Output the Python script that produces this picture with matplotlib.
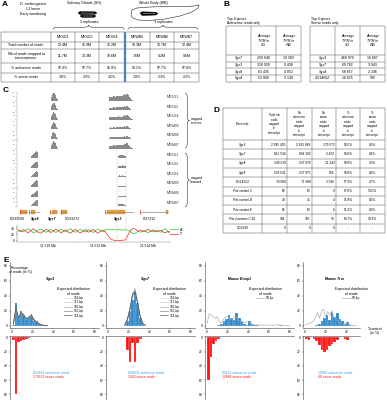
import numpy as np
import matplotlib
matplotlib.use("Agg")
import matplotlib.pyplot as plt
from matplotlib.patches import Polygon, Rectangle, PathPatch
from matplotlib.path import Path

# ------------------------------------------------------------------ DATA
samples = ["MESG1", "MESG2", "MESG4", "MEWB5", "MEWB6", "MEWB7"]
a_rowlabels = ["Total number of reads", "Nb of reads mapped to\ntranscriptome",
               "% antisense reads", "% sense reads"]
total_reads = ["13.4M", "15.9M", "12.2M", "10.3M", "12.7M", "12.4M"]
mapped_reads = ["11.7M", "13.3M", "10.6M", "7.6M", "9.2M", "9.5M"]
pct_antisense = ["97.4%", "97.7%", "96.9%", "98.1%", "97.7%", "97.8%"]
pct_sense = ["2.6%", "2.3%", "3.1%", "1.9%", "2.3%", "2.2%"]

b_headers = ["Average\nTPM in\nSG", "Average\nTPM in\nWB"]
b_anti_genes = ["Sgs7", "Sgs3", "Sgs8", "Sgs4"]
b_anti_sg = ["259 040", "158 939", "63 435", "53 900"]
b_anti_wb = ["19 303", "9 438", "4 852", "3 149"]
b_sense_genes = ["Sgs3", "Sgs7", "Sgs4", "CG14052"]
b_sense_sg = ["468 970", "69 782", "56 657", "16 625"]
b_sense_wb = ["16 687", "3 943", "2 246", "526"]

d_headers = ["Transcript", "Total nb\nreads\nmapped\nto\ntranscript",
             "Nb\nantisense\nreads\nmapped\nto\ntranscript",
             "Nb\nsense\nreads\nmapped\nto\ntranscript",
             "%\nantisense\nreads\nmapped\nto\ntranscript",
             "%\nsense\nreads\nmapped\nto\ntranscript"]
d_transcripts = ["Sgs3", "Sgs7", "Sgs4", "Sgs8", "CG14052", "Pits variant C",
                 "Pits variant D", "Pits variant E", "Pits (variants C-E)", "CG2839"]
d_total = ["2 995 455", "811 534", "549 219", "238 531", "74 004", "69", "49", "66", "184", "0"]
d_anti = ["2 815 883", "808 102", "537 976", "237 975", "71 988", "60", "45", "60", "165", "0"]
d_sense = ["179 572", "3 432", "11 243", "556", "2 016", "9", "4", "6", "19", "0"]
d_pct_anti = ["94.0%", "99.6%", "98.0%", "99.8%", "97.3%", "87.0%", "91.8%", "91.0%", "89.7%", "-"]
d_pct_sense = ["6.0%", "0.4%", "2.0%", "0.2%", "2.7%", "13.0%", "8.2%", "9.0%", "10.3%", "-"]

# Panel C: coverage profiles (genomic position in kb)
rev_sgs7_pos = [11510.08, 11510.12, 11510.15, 11510.19, 11510.23, 11510.27, 11510.30,
                11510.34, 11510.38, 11510.41]
rev_sgs7_val = [0.0, 0.5, 0.8, 1.0, 0.92, 0.75, 0.55, 0.35, 0.15, 0.0]
rev_sgs7_scale = [1.0, 0.95, 0.97, 0.9, 0.88, 0.92]
rev_sgs3_pos = [11512.40, 11512.45, 11512.50, 11512.55, 11512.60, 11512.65, 11512.70,
                11512.75, 11512.80, 11512.85, 11512.90, 11512.95, 11513.00, 11513.05,
                11513.10, 11513.15, 11513.20, 11513.25, 11513.30, 11513.35, 11513.40]
rev_sgs3_val = [0.0, 0.45, 0.55, 0.5, 0.6, 0.58, 0.52, 0.62, 0.66, 0.6, 0.56,
                0.62, 0.72, 0.88, 0.76, 0.92, 0.72, 0.5, 0.3, 0.12, 0.0]
rev_sgs3_scale = [0.95, 0.62, 0.68, 0.45, 0.42, 0.72]
fwd_sgs8_pos = [11509.28, 11509.32, 11509.36, 11509.39, 11509.43, 11509.47, 11509.51,
                11509.54, 11509.58, 11509.62]
fwd_sgs8_val = [0.0, 0.25, 0.4, 0.55, 0.7, 0.85, 1.0, 0.3, 0.95, 0.0]
fwd_sgs8_scale = [0.9, 0.8, 0.78, 0.85, 0.72, 0.78]
fwd_sgs3_pos = [11512.76, 11512.81, 11512.86, 11512.91, 11512.97, 11513.02, 11513.07, 11513.12]
fwd_sgs3_val = [0.0, 0.55, 0.7, 0.62, 0.75, 0.68, 0.45, 0.0]
fwd_sgs3_scale = [0.6, 0.4, 0.35, 0.25, 0.15, 0.45]
highlight_kb = [11512.75, 11513.11]

gene_names = ["CG33500", "Sgs8", "Sgs7", "CG33272", "Sgs3", "CG7312"]
gene_start = [11508.87, 11509.23, 11510.07, 11510.51, 11512.27, 11513.67]
gene_end = [11509.15, 11509.63, 11510.35, 11510.75, 11513.39, 11514.79]
exon_start = [11508.87, 11509.31, 11510.15, 11510.51, 11512.35, 11514.72]
exon_end = [11509.15, 11509.47, 11510.35, 11510.75, 11513.07, 11514.79]
gene_label_kb = [11508.75, 11509.47, 11510.15, 11510.95, 11512.79, 11514.03]

at_pos = np.round(np.linspace(11508.8, 11514.9, 62), 2)
a_content = [30, 33, 28, 35, 38, 32, 25, 28, 34, 37,
             33, 27, 30, 36, 32, 26, 31, 37, 33, 28,
             34, 38, 30, 27, 33, 36, 31, 28, 35, 32,
             26, 33, 37, 31, 29, 35, 36, 35, 35, 34,
             35, 35, 34, 35, 33, 28, 22, 25, 30, 27,
             32, 29, 25, 31, 28, 33, 30, 27, 35, 38, 27, 25]
t_content = [35, 28, 36, 30, 25, 32, 38, 33, 26, 24,
             30, 36, 33, 26, 30, 37, 32, 25, 29, 35,
             27, 24, 33, 36, 28, 25, 31, 35, 27, 30,
             36, 29, 24, 31, 34, 27, 15, 5, 2, 1,
             0, 1, 2, 3, 20, 33, 40, 36, 30, 34,
             28, 33, 36, 30, 34, 28, 31, 33, 27, 26, 30, 29]

# Panel E: T-content histograms (bin starts, width 2.5 %)
e_titles = [r"$\mathbfit{Sgs3}$", r"$\mathbfit{Sgs7}$",
            r"$\mathbf{Mouse}$ $\mathbfit{Bsnp1}$", r"$\mathbf{Mouse}$ $\mathbfit{Trio}$"]
e_antisense_txt = ["815883 antisense reads", "808102 antisense reads",
                   "84131 antisense reads", "10969 antisense reads"]
e_sense_txt = ["179572 sense reads", "3430 sense reads", "12884 sense reads", "48 sense reads"]

sgs3_anti_bins = [0, 2.5, 5, 7.5, 10, 12.5, 15, 17.5, 20, 22.5, 25, 27.5, 30, 32.5, 35, 37.5, 40, 42.5]
sgs3_anti_vals = [0.5, 31, 12, 20, 15, 9, 10, 12, 7, 6, 4, 1, 0.5, 0.5, 0.3, 0.3, 0.2, 0.2]
sgs3_sense_bins = [0, 2.5, 5, 7.5, 10, 12.5, 15]
sgs3_sense_vals = [3, 79, 7, 5, 3, 2, 1]
sgs7_anti_bins = [15, 17.5, 20, 22.5, 25, 27.5, 30, 32.5]
sgs7_anti_vals = [1, 7, 20, 35, 45, 30, 10, 3]
sgs7_sense_bins = [17.5, 20, 22.5, 25, 27.5, 30]
sgs7_sense_vals = [18, 34, 8, 35, 8, 2]
bsnp1_anti_bins = [10, 12.5, 15, 17.5, 20, 22.5, 25, 27.5, 30, 32.5, 35, 37.5, 40, 42.5, 45, 47.5, 70]
bsnp1_anti_vals = [1, 3, 6, 9, 14, 11, 8, 17, 11, 6, 3, 1, 6, 2, 1, 0.5, 1]
bsnp1_sense_bins = [0, 2.5, 5, 7.5, 10]
bsnp1_sense_vals = [60, 27, 9, 5, 2]
trio_anti_bins = [10, 12.5, 15, 17.5, 20, 22.5, 25, 27.5, 30, 32.5, 35, 37.5, 40, 42.5]
trio_anti_vals = [1, 3, 7, 10, 14, 8, 18, 12, 17, 9, 7, 3, 5, 1]
trio_sense_bins = [0, 2.5, 7.5, 10, 12.5, 15, 17.5, 20, 22.5, 25, 27.5, 30, 37.5, 40]
trio_sense_vals = [2, 3, 2, 5, 10, 18, 20, 17, 12, 9, 6, 3, 2, 3]

exp_labels_sgs = ["118-bp", "117-bp", "116-bp", "115-bp", "114-bp"]
sgs3_exp_x = [1.25, 3.75, 6.25, 8.75, 11.25, 13.75, 16.25, 18.75, 21.25, 23.75, 26.25, 28.75, 31.25, 33.75]
sgs3_exp = [[2, 22, 10, 18, 14, 9, 11, 14, 8, 5, 3, 1, 0.5, 0],
            [3, 24, 9, 17, 15, 8, 12, 13, 9, 5, 2, 1, 0.5, 0],
            [2, 23, 11, 16, 14, 10, 11, 14, 7, 6, 3, 1, 0.5, 0],
            [3, 21, 10, 19, 13, 9, 12, 13, 8, 5, 3, 1, 0.5, 0],
            [2, 25, 10, 17, 15, 9, 10, 15, 8, 5, 2, 1, 0.5, 0]]
sgs7_exp_x = [16.25, 18.75, 21.25, 23.75, 26.25, 28.75, 31.25, 33.75, 36.25]
sgs7_exp = [[1, 8, 22, 40, 48, 30, 12, 3, 0.5],
            [1, 9, 24, 42, 46, 28, 11, 3, 0.5],
            [1, 7, 21, 41, 50, 31, 12, 2, 0.5],
            [2, 8, 23, 39, 47, 29, 13, 3, 0.5],
            [1, 9, 22, 43, 45, 30, 11, 3, 0.5]]
bsnp1_exp_x = [0, 2, 4, 6, 8, 10, 12, 14, 16, 18, 20, 22, 24, 26, 28, 30, 32, 34, 36, 38,
               40, 44, 48, 52, 56, 60, 64, 68, 72, 76, 80]
bsnp1_exp = [3, 16, 14, 12, 10, 12, 5, 4, 9, 12, 13, 10, 8, 11, 12, 8, 6, 5, 4, 5,
             5, 2, 1, 1, 0.5, 1, 0.5, 1.5, 0.5, 0.2, 0]
trio_exp_x = [0, 2, 4, 6, 8, 10, 12, 14, 16, 18, 20, 22, 24, 26, 28, 30, 32, 34, 36, 38,
              40, 42, 44, 46, 48, 50]
trio_exp = [1, 2, 3, 4, 6, 10, 18, 10, 20, 22, 12, 19, 14, 20, 10, 9, 5, 4, 3, 2,
            3, 2, 1, 0.5, 0.2, 0]

# ------------------------------------------------------------------ STYLE
plt.rcParams['font.family'] = ['Liberation Sans', 'DejaVu Sans']
plt.rcParams['mathtext.fontset'] = 'custom'
plt.rcParams['mathtext.rm'] = 'Liberation Sans'
plt.rcParams['mathtext.it'] = 'Liberation Sans:italic'
plt.rcParams['mathtext.bf'] = 'Liberation Sans:bold'
plt.rcParams['mathtext.bfit'] = 'Liberation Sans:italic:bold'

W, H = 387, 400
fig = plt.figure(figsize=(3.87, 4.0), dpi=100)
fig.patch.set_facecolor('white')


def frac(x0, y0, x1, y1):
    return [x0 / W, 1 - y1 / H, (x1 - x0) / W, (y1 - y0) / H]


ov = fig.add_axes([0, 0, 1, 1])
ov.set_xlim(0, W)
ov.set_ylim(H, 0)
ov.axis('off')
ov.patch.set_visible(False)

LC = '#555555'


def grid(xs, ys, lw=0.35, color=LC):
    for x in xs:
        ov.plot([x, x], [ys[0], ys[-1]], color=color, lw=lw, solid_capstyle='butt')
    for y in ys:
        ov.plot([xs[0], xs[-1]], [y, y], color=color, lw=lw, solid_capstyle='butt')


def ctext(x0, x1, y0, y1, s, **kw):
    ov.text((x0 + x1) / 2, (y0 + y1) / 2, s, ha='center', va='center', **kw)


def hbrace(x0, x1, y, h, lw=0.4):
    xm = (x0 + x1) / 2
    r = h
    yl = y - h / 2
    verts = [(x0, y), (x0, yl), (x0 + r, yl), (xm - r, yl), (xm, yl), (xm, y - h),
             (xm, yl), (xm + r, yl), (x1 - r, yl), (x1, yl), (x1, y)]
    codes = [Path.MOVETO, Path.CURVE3, Path.CURVE3, Path.LINETO, Path.CURVE3, Path.CURVE3,
             Path.CURVE3, Path.CURVE3, Path.LINETO, Path.CURVE3, Path.CURVE3]
    ov.add_patch(PathPatch(Path(verts, codes), fill=False, lw=lw, ec='#333333'))


def vbrace(y0, y1, x, w, lw=0.4):
    ym = (y0 + y1) / 2
    r = w
    xl = x + w / 2
    verts = [(x, y0), (xl, y0), (xl, y0 + r), (xl, ym - r), (xl, ym), (x + w, ym),
             (xl, ym), (xl, ym + r), (xl, y1 - r), (xl, y1), (x, y1)]
    codes = [Path.MOVETO, Path.CURVE3, Path.CURVE3, Path.LINETO, Path.CURVE3, Path.CURVE3,
             Path.CURVE3, Path.CURVE3, Path.LINETO, Path.CURVE3, Path.CURVE3]
    ov.add_patch(PathPatch(Path(verts, codes), fill=False, lw=lw, ec='#333333'))


# ------------------------------------------------------------------ PANEL A
ov.text(2, 5, "A", fontsize=6, fontweight='bold', va='center')
ov.text(33, 4.5, "D. melanogaster", fontsize=2.6, style='italic', ha='center', va='center')
ov.text(33, 9.5, "L3 larver", fontsize=2.6, ha='center', va='center')
ov.text(33, 14.5, "Early wandering", fontsize=2.6, ha='center', va='center')
ov.text(84, 3, "Salivary Glands (SG)", fontsize=2.6, ha='center', va='center')
ov.text(153, 3, "Whole Body (WB)", fontsize=2.6, ha='center', va='center')
ov.add_patch(Polygon([(78, 13), (80, 11.5), (95, 11.8), (97, 13), (95, 14.2), (80, 14.4)],
                     closed=True, fc='black', ec='black', lw=0.3))
ov.add_patch(Polygon([(80, 16), (82, 14.8), (94, 15), (96, 16), (94, 17.4), (82, 17.4)],
                     closed=True, fc='black', ec='black', lw=0.3))
ov.plot([81, 94], [13, 13.1], color='white', lw=0.3)
ov.plot([83, 93], [16.1, 16.1], color='white', lw=0.3)
ov.add_patch(Polygon([(131, 14), (132, 10), (137, 8), (150, 7), (168, 6.5), (185, 6.5), (194, 6),
                      (199, 5), (198, 8), (192, 12), (180, 16), (165, 19), (150, 20.5), (138, 20),
                      (132, 17.5)], closed=True, fc='white', ec='#222222', lw=0.4))
ov.add_patch(Polygon([(140, 13), (142, 11.8), (156, 12.2), (158, 13.5), (156, 15), (142, 15.5)],
                     closed=True, fc='black', ec='black', lw=0.3))
ov.plot([143, 155], [13.5, 13.6], color='white', lw=0.3)
ov.text(89, 22.3, "3 replicates", fontsize=2.6, ha='center', va='center')
ov.text(163, 22.3, "3 replicates", fontsize=2.6, ha='center', va='center')
hbrace(53, 124, 29.5, 4.5)
hbrace(128, 198, 29.5, 4.5)

a_cols = [1, 51, 75, 99, 124.5, 150, 174, 199]
a_rows = [32, 42, 49, 63, 73, 82]
grid(a_cols, a_rows)
ov.plot([124.5, 124.5], [a_rows[0], a_rows[-1]], color='#4f7fc0', lw=1.6, solid_capstyle='butt')
for j, s in enumerate(samples):
    ctext(a_cols[j + 1], a_cols[j + 2], a_rows[0], a_rows[1], s, fontsize=2.6)
a_values = [total_reads, mapped_reads, pct_antisense, pct_sense]
for i, lab in enumerate(a_rowlabels):
    ctext(a_cols[0], a_cols[1], a_rows[i + 1], a_rows[i + 2], lab, fontsize=2.6, linespacing=1.2)
    for j, v in enumerate(a_values[i]):
        ctext(a_cols[j + 1], a_cols[j + 2], a_rows[i + 1], a_rows[i + 2], v, fontsize=2.6)

# ------------------------------------------------------------------ PANEL B
ov.text(223, 5, "B", fontsize=6, fontweight='bold', va='center')


def table_b(x0, title2, genes, sg, wb):
    ov.text(x0 + 1, 19.3, "Top 4 genes", fontsize=2.5, va='center')
    ov.text(x0 + 1, 22.8, title2, fontsize=2.5, va='center')
    cols = [x0, x0 + 25, x0 + 50, x0 + 75]
    rows = [26, 55, 61.7, 68.4, 75.1, 81.8]
    grid(cols, rows)
    for j, hdr in enumerate(b_headers):
        ctext(cols[j + 1], cols[j + 2], rows[0], rows[1], hdr, fontsize=2.5, style='italic',
              linespacing=1.2)
    for i in range(4):
        ctext(cols[0], cols[1], rows[i + 1], rows[i + 2], genes[i], fontsize=2.5, style='italic')
        ctext(cols[1], cols[2], rows[i + 1], rows[i + 2], sg[i], fontsize=2.5)
        ctext(cols[2], cols[3], rows[i + 1], rows[i + 2], wb[i], fontsize=2.5)


table_b(226, "Antisense reads only", b_anti_genes, b_anti_sg, b_anti_wb)
table_b(310, "Sense reads only", b_sense_genes, b_sense_sg, b_sense_wb)

# ------------------------------------------------------------------ PANEL C
ov.text(3, 90, "C", fontsize=6, fontweight='bold', va='center')
XL = (11508.75, 11514.87)
TRACK_C = '#8a8a8a'

axc = fig.add_axes(frac(17, 92, 170, 207.2))
axc.set_xlim(*XL)
axc.set_ylim(0, 12)
TRACK_H = 0.815
tick_pos, tick_lab = [], []
for hk in highlight_kb:
    axc.plot([hk, hk], [0, 6.0], color='#cccccc', lw=0.3, zorder=1)
for i in range(12):
    base = 11.104 - i
    k = i % 6
    if i < 6:
        profiles = [(rev_sgs7_pos, rev_sgs7_val, rev_sgs7_scale[k], 0.04),
                    (rev_sgs3_pos, rev_sgs3_val, rev_sgs3_scale[k], 0.052)]
    else:
        profiles = [(fwd_sgs8_pos, fwd_sgs8_val, fwd_sgs8_scale[k], 0.04),
                    (fwd_sgs3_pos, fwd_sgs3_val, fwd_sgs3_scale[k], 0.052)]
    for pos, val, sc, wd in profiles:
        heights = [v * sc * TRACK_H for v in val]
        axc.bar(pos, heights, width=wd, bottom=base, align='center', color=TRACK_C,
                edgecolor='none', linewidth=0, zorder=3)
    tick_pos += [base, base + 0.4, base + 0.8]
    tick_lab += ["0", "500", "1000"]
    ov.text(167, 92 + 9.6 * i + 5, samples[k], fontsize=2.5, va='center', color='#333333')
axc.set_xlim(*XL)
axc.set_ylim(0, 12)
axc.set_yticks(tick_pos)
axc.set_yticklabels(tick_lab)
for sp in ['top', 'right', 'bottom']:
    axc.spines[sp].set_visible(False)
axc.spines['left'].set_linewidth(0.25)
axc.spines['left'].set_color('#999999')
axc.set_xticks([])
axc.tick_params(axis='y', length=0.8, width=0.25, labelsize=1.2, pad=0.3, colors='#777777')
axc.patch.set_visible(False)

vbrace(93, 148, 185, 4.5)
vbrace(153, 207, 185, 4.5)
ov.text(190.5, 121, "mapped\nreverse", fontsize=2.4, va='center', linespacing=1.1)
ov.text(190.5, 180, "mapped\nforward", fontsize=2.4, va='center', linespacing=1.1)

axg = fig.add_axes(frac(17, 209, 170, 224))
axg.set_xlim(*XL)
axg.set_ylim(-1.6, 1)
axg.axis('off')
axg.patch.set_visible(False)
for hk in highlight_kb:
    axg.axvline(hk, color='#cccccc', lw=0.3)
for n, gs, ge, es, ee, lx in zip(gene_names, gene_start, gene_end, exon_start, exon_end,
                                 gene_label_kb):
    axg.plot([gs, ge], [0.45, 0.45], color='#888888', lw=0.5)
    axg.add_patch(Rectangle((es, 0.15), ee - es, 0.6, fc='#e8a03a', ec='#c97f20', lw=0.2))
    axg.plot([gs, gs], [0.15, 0.75], color='#d9402a', lw=0.5)
    if n.startswith('Sgs'):
        axg.text(lx, -0.8, n, fontsize=2.5, ha='center', va='center', style='italic',
                 fontweight='bold')
    else:
        axg.text(lx, -0.8, n, fontsize=2.5, ha='center', va='center')

axt = fig.add_axes(frac(17, 225, 170, 242))
axt.plot(at_pos, a_content, color='#22cc22', lw=0.5, label='A')
axt.plot(at_pos, t_content, color='#ee2222', lw=0.5, label='T')
for hk in highlight_kb:
    axt.axvline(hk, color='#cccccc', lw=0.3)
axt.set_xlim(*XL)
axt.set_ylim(-4, 50)
axt.set_yticks([0, 20, 40])
axt.set_xticks([11510, 11512, 11514])
axt.set_xticklabels(["11.510 Mb", "11.512 Mb", "11.514 Mb"])
axt.set_xticks([11509, 11511, 11513], minor=True)
for sp in ['top', 'right']:
    axt.spines[sp].set_visible(False)
axt.spines['left'].set_linewidth(0.35)
axt.spines['left'].set_color('#666666')
axt.spines['bottom'].set_linewidth(1.2)
axt.spines['bottom'].set_color('#dddddd')
axt.tick_params(which='both', length=1, width=0.3, labelsize=2.4, pad=0.6)
axt.patch.set_visible(False)
axt.legend(loc='center left', bbox_to_anchor=(0.99, 0.6), frameon=False, fontsize=2.6,
           handlelength=2.2, labelspacing=0.1, handletextpad=0.4, borderpad=0)

# ------------------------------------------------------------------ PANEL D
ov.text(213, 110, "D", fontsize=6, fontweight='bold', va='center')
d_cols = [223, 262, 287, 312, 336, 360, 385]
d_rows = [108, 140] + [140 + 9.3 * (r + 1) for r in range(10)]
grid(d_cols, d_rows)
for j, hdr in enumerate(d_headers):
    ctext(d_cols[j], d_cols[j + 1], d_rows[0], d_rows[1], hdr, fontsize=2.2, linespacing=1.15)
for i, tname in enumerate(d_transcripts):
    y0, y1 = d_rows[i + 1], d_rows[i + 2]
    ital = 'normal' if tname.startswith('CG') else 'italic'
    ctext(d_cols[0], d_cols[1], y0, y1, tname, fontsize=2.3, style=ital)
    for j, col in enumerate([d_total, d_anti, d_sense]):
        ov.text(d_cols[j + 2] - 1.5, (y0 + y1) / 2, col[i], fontsize=2.3, ha='right', va='center')
    ctext(d_cols[4], d_cols[5], y0, y1, d_pct_anti[i], fontsize=2.3)
    ctext(d_cols[5], d_cols[6], y0, y1, d_pct_sense[i], fontsize=2.3)

# ------------------------------------------------------------------ PANEL E
ov.text(3, 261, "E", fontsize=6, fontweight='bold', va='center')
ov.text(20, 270, "Percentage\nof reads (in %)", fontsize=2.5, ha='center', va='center',
        linespacing=1.3)
ov.text(375, 331, "T-content\n(in %)", fontsize=2.5, ha='center', va='center', linespacing=1.2)

BLUE = '#2b85c8'
RED = '#ff1010'
e_left = [10, 106, 205, 303]
e_xmax = [84, 84, 84, 53]
e_xticks = [[0, 20, 40, 60, 80]] * 3 + [[0, 20, 40]]
anti_bins = [sgs3_anti_bins, sgs7_anti_bins, bsnp1_anti_bins, trio_anti_bins]
anti_vals = [sgs3_anti_vals, sgs7_anti_vals, bsnp1_anti_vals, trio_anti_vals]
sense_bins = [sgs3_sense_bins, sgs7_sense_bins, bsnp1_sense_bins, trio_sense_bins]
sense_vals = [sgs3_sense_vals, sgs7_sense_vals, bsnp1_sense_vals, trio_sense_vals]
grey5 = ['#e2e2e2', '#c6c6c6', '#a4a4a4', '#7c7c7c', '#4c4c4c']
PX_PER_UNIT = 88.6 / 86

for p in range(4):
    x0 = e_left[p]
    x1 = x0 + PX_PER_UNIT * (e_xmax[p] + 2)
    axu = fig.add_axes(frac(x0, 262, x1, 328))
    axd = fig.add_axes(frac(x0, 336, x1, 400))
    axu.bar(anti_bins[p], anti_vals[p], width=2.5, align='edge', color=BLUE,
            edgecolor='white', lw=0.15, zorder=2)
    axd.bar(sense_bins[p], sense_vals[p], width=2.5, align='edge', color=RED,
            edgecolor='white', lw=0.15)
    if p == 0:
        for g in range(5):
            axu.plot(sgs3_exp_x, sgs3_exp[g], color=grey5[g], lw=0.45, label=exp_labels_sgs[g],
                     zorder=3)
    elif p == 1:
        for g in range(5):
            axu.plot(sgs7_exp_x, sgs7_exp[g], color=grey5[g], lw=0.45, label=exp_labels_sgs[g],
                     zorder=3)
    elif p == 2:
        axu.plot(bsnp1_exp_x, bsnp1_exp, color='#aaaaaa', lw=0.45, label='50-bp', zorder=3)
    else:
        axu.plot(trio_exp_x, trio_exp, color='#aaaaaa', lw=0.45, label='50-bp', zorder=3)
    leg = axu.legend(title="Expected distribution\nof reads", loc='upper center',
                     bbox_to_anchor=(0.72 if p < 2 else 0.68 if p == 2 else 0.85, 0.62),
                     frameon=False, fontsize=2.3, title_fontsize=2.5, handlelength=2.6,
                     labelspacing=0.12, handletextpad=0.4, borderpad=0, borderaxespad=0)
    leg.get_title().set_multialignment('center')
    axu.set_xlim(-2, e_xmax[p])
    axu.set_ylim(-3, 85)
    axd.set_xlim(-2, e_xmax[p])
    axd.set_ylim(88, -2)
    axu.set_xticks(e_xticks[p])
    axu.set_yticks([0, 20, 40, 60, 80])
    axd.set_yticks([0, 20, 40, 60, 80])
    axd.set_xticks([])
    for sp in ['top', 'right']:
        axu.spines[sp].set_visible(False)
    for sp in ['bottom', 'right']:
        axd.spines[sp].set_visible(False)
    for a in (axu, axd):
        for sp in a.spines.values():
            sp.set_linewidth(0.4)
            sp.set_color('#444444')
        a.tick_params(length=1, width=0.3, labelsize=2.3, pad=0.6)
        a.patch.set_visible(False)
    tx = [50, 145, 240, 335][p]
    ov.text(tx, 279, e_titles[p], fontsize=2.6, ha='center', va='center')
    lx = [33, 128, 222, 318][p]
    ov.text(lx, 372.5, e_antisense_txt[p], fontsize=2.4, color='#3b9be0', va='center')
    ov.text(lx, 377.5, e_sense_txt[p], fontsize=2.4, color=RED, va='center')

fig.savefig("out.png", dpi=100, facecolor='white')
